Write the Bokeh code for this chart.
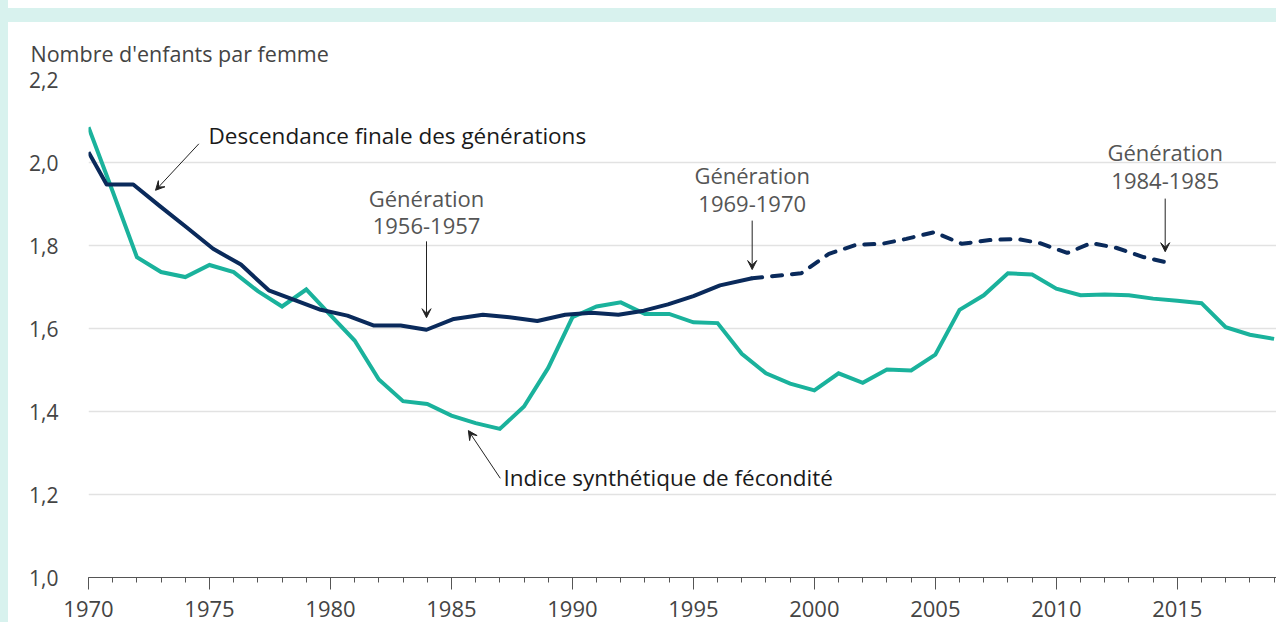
from bokeh.plotting import figure
from bokeh.models import Div, FixedTicker, Arrow, VeeHead
from bokeh.layouts import column
from bokeh.embed import file_html
from bokeh.resources import INLINE
from bokeh.core.properties import value

# ---------------- data ----------------
isf_years = list(range(1970, 2020))
isf_values = [2.085, 1.930, 1.772, 1.736, 1.724, 1.753, 1.736, 1.690, 1.653, 1.694,
              1.632, 1.571, 1.477, 1.425, 1.418, 1.390, 1.372, 1.358, 1.412, 1.505,
              1.627, 1.653, 1.663, 1.635, 1.635, 1.615, 1.613, 1.539, 1.492, 1.467,
              1.451, 1.492, 1.469, 1.501, 1.499, 1.537, 1.645, 1.680, 1.733, 1.730,
              1.696, 1.680, 1.682, 1.680, 1.672, 1.667, 1.661, 1.603, 1.585, 1.575]

# descendance finale (observed part, solid)
df_obs_x = [1970.0, 1970.75, 1971.85, 1972.95, 1974.05, 1975.15, 1976.3, 1977.45, 1978.5,
            1979.6, 1980.7, 1981.8, 1982.9, 1983.97, 1985.1, 1986.3, 1987.4, 1988.55,
            1989.7, 1990.8, 1991.9, 1992.95, 1993.95, 1995.0, 1996.1, 1997.43]
df_obs_y = [2.025, 1.947, 1.947, 1.895, 1.844, 1.792, 1.754, 1.692, 1.669,
            1.645, 1.631, 1.607, 1.607, 1.597, 1.623, 1.633, 1.627, 1.618,
            1.633, 1.638, 1.633, 1.643, 1.658, 1.678, 1.704, 1.721]
# descendance finale (estimated part, dashed)
df_est_x = [1997.43, 1999.45, 2000.6, 2001.75, 2002.8, 2003.8, 2004.95, 2006.1, 2007.25,
            2008.35, 2009.3, 2010.45, 2011.45, 2012.5, 2013.6, 2014.5]
df_est_y = [1.721, 1.733, 1.780, 1.802, 1.804, 1.816, 1.832, 1.804, 1.813,
            1.816, 1.806, 1.782, 1.806, 1.794, 1.772, 1.760]

y_ticks = [1.0, 1.2, 1.4, 1.6, 1.8, 2.0, 2.2]
y_tick_labels = ["1,0", "1,2", "1,4", "1,6", "1,8", "2,0", "2,2"]
x_ticks = [1970, 1975, 1980, 1985, 1990, 1995, 2000, 2005, 2010, 2015]
x_minor = list(range(1970, 2020))

TEAL = "#1ab29c"
NAVY = "#0a2a5b"
FONT = "Open Sans"

p = figure(width=1268, height=612, x_range=(1970, 2019.1), y_range=(1.0, 2.2),
           output_backend="svg", toolbar_location=None,
           min_border_left=80, min_border_right=0, min_border_top=57, min_border_bottom=57)
p.outline_line_color = None
p.background_fill_color = "white"
p.border_fill_color = "white"

p.title.text = "Nombre d'enfants par femme"
p.title.align = "left"
p.title.offset = -58
p.title.standoff = 24
p.title.text_font = FONT
p.title.text_font_size = "21.5px"
p.title.text_font_style = "normal"
p.title.text_color = "#444444"

# axes
p.xaxis.ticker = FixedTicker(ticks=x_ticks, minor_ticks=x_minor)
p.xaxis.axis_line_color = "#555555"
p.xaxis.major_tick_line_color = "#555555"
p.xaxis.minor_tick_line_color = "#555555"
p.xaxis.major_tick_out = 12
p.xaxis.major_tick_in = 0
p.xaxis.minor_tick_out = 5
p.xaxis.minor_tick_in = 0
p.xaxis.major_label_standoff = 11
p.xaxis.major_label_text_font = FONT
p.xaxis.major_label_text_font_size = "22px"
p.xaxis.major_label_text_color = "#444444"

p.yaxis.ticker = FixedTicker(ticks=y_ticks)
p.yaxis.major_label_overrides = {t: l for t, l in zip(y_ticks, y_tick_labels)}
p.yaxis.axis_line_color = None
p.yaxis.major_tick_line_color = None
p.yaxis.minor_tick_line_color = None
p.yaxis.major_label_standoff = 24
p.yaxis.major_label_text_font = FONT
p.yaxis.major_label_text_font_size = "21px"
p.yaxis.major_label_text_color = "#444444"

p.xgrid.grid_line_color = None
p.ygrid.grid_line_color = "#e2e2e2"
p.ygrid.grid_line_width = 1.5

# lines
p.line(isf_years, isf_values, line_color=TEAL, line_width=4, line_join="miter")
p.line(df_obs_x, df_obs_y, line_color=NAVY, line_width=4, line_join="round")
p.line(df_est_x, df_est_y, line_color=NAVY, line_width=4, line_dash="10 10", line_cap="round")

# annotations
def arrow(x0, y0, x1, y1):
    p.add_layout(Arrow(end=VeeHead(size=9, line_color="#222222", fill_color="#222222", line_width=1),
                       x_start=x0, y_start=y0, x_end=x1, y_end=y1,
                       line_color="#222222", line_width=1))

arrow(1974.56, 2.045, 1972.77, 1.933)
arrow(1983.97, 1.810, 1983.97, 1.626)
arrow(1997.43, 1.860, 1997.43, 1.742)
arrow(2014.5, 1.913, 2014.5, 1.785)
arrow(1987.02, 1.239, 1985.70, 1.354)

p.text(x=[1974.96, 1987.15], y=[2.065, 1.241],
       text=["Descendance finale des générations", "Indice synthétique de fécondité"],
       text_font=value(FONT), text_font_size="22.5px", text_color="#1a1a1a",
       text_align="left", text_baseline="middle")

p.text(x=[1983.97, 1983.97, 1997.43, 1997.43, 2014.5, 2014.5],
       y=[1.9145, 1.846, 1.969, 1.899, 2.026, 1.956],
       text=["Génération", "1956-1957", "Génération", "1969-1970", "Génération", "1984-1985"],
       text_font=value(FONT), text_font_size="22px", text_color="#555555",
       text_align="center", text_baseline="middle")

band = Div(text="", width=1268, height=14, margin=0,
           styles={"background-color": "#d8f2ee"})
layout = column(band, p, spacing=0)

html = file_html(layout, INLINE)
css = ("<style>html, body { margin: 0 !important; overflow: hidden !important; } "
       "body { padding: 8px 0 0 8px !important; box-sizing: border-box; "
       "background: linear-gradient(to right, #d8f2ee 8px, #ffffff 8px) !important; }</style>")
html = html.replace("</head>", css + "</head>", 1)
open("out.html", "w").write(html)
